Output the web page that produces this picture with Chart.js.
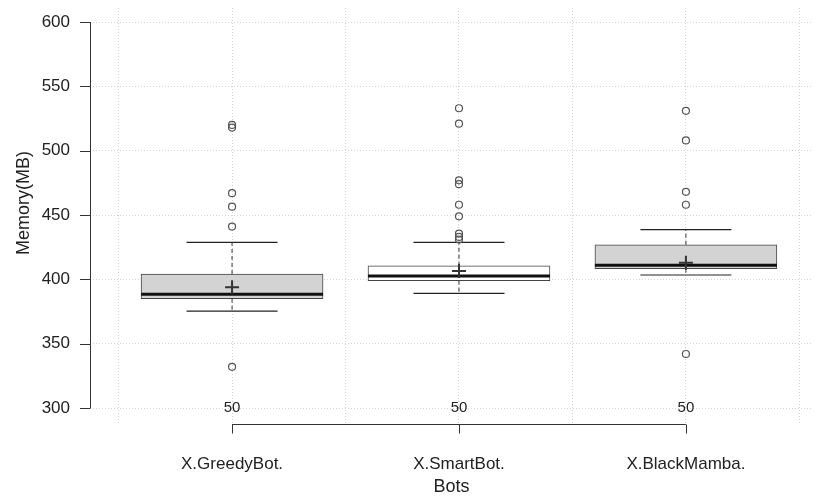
<!DOCTYPE html>
<html>
<head>
<meta charset="utf-8">
<script src="https://cdn.jsdelivr.net/npm/chart.js@4.4.1/dist/chart.umd.min.js"></script>
<style>
  body { margin: 0; background: #fff; }
  #wrap { width: 815px; height: 499px; }
</style>
</head>
<body>
<div id="wrap"><canvas id="box" width="815" height="499"></canvas></div>
<script>
const categories = ['X.GreedyBot.', 'X.SmartBot.', 'X.BlackMamba.'];
const counts = [50, 50, 50];
const q1 = [385, 399, 408.3];
const median = [388.4, 402.6, 410.9];
const q3 = [404.2, 410.6, 426.9];
const whiskerLow = [375.4, 389.1, 403.4];
const whiskerHigh = [428.8, 428.8, 438.6];
const means = [393.8, 406.5, 412.9];
const outliers = [
    [520, 518, 467, 456.5, 441, 332],
    [533, 521, 477, 474, 458, 449, 435.5, 433, 431],
    [531, 508, 468, 458, 342]
];
const yTicks = [300, 350, 400, 450, 500, 550, 600];
const xGrid = [0.5, 1, 1.5, 2, 2.5, 3, 3.5];

const FONT = 'Liberation Sans, Arial, sans-serif';

// whisker segments, null breaks the line between them
const whiskerData = [];
categories.forEach((c, i) => {
    whiskerData.push({x: i + 1, y: q3[i]}, {x: i + 1, y: whiskerHigh[i]}, {x: i + 1, y: null});
    whiskerData.push({x: i + 1, y: q1[i]}, {x: i + 1, y: whiskerLow[i]}, {x: i + 1, y: null});
});

const outlierData = [];
outliers.forEach((list, i) => list.forEach(v => outlierData.push({x: i + 1, y: v})));

//R style axes: lines only between first and last tick
const rAxes = {
    id: 'rAxes',
    afterDraw(chart) {
        const ctx = chart.ctx;
        const xs = chart.scales.x, ys = chart.scales.y;
        const left = chart.chartArea.left, bottom = chart.chartArea.bottom;
        ctx.save();
        ctx.strokeStyle = '#333';
        ctx.lineWidth = 1;
        ctx.beginPath();
        ctx.moveTo(left + 0.5, ys.getPixelForValue(300));
        ctx.lineTo(left + 0.5, ys.getPixelForValue(600));
        yTicks.forEach(v => {
            const py = Math.round(ys.getPixelForValue(v)) + 0.5;
            ctx.moveTo(left + 0.5, py);
            ctx.lineTo(left - 10, py);
        });
        const by = bottom + 0.5;
        ctx.moveTo(xs.getPixelForValue(1), by);
        ctx.lineTo(xs.getPixelForValue(3), by);
        categories.forEach((c, i) => {
            const px = Math.round(xs.getPixelForValue(i + 1)) + 0.5;
            ctx.moveTo(px, by);
            ctx.lineTo(px, by + 9);
        });
        ctx.stroke();

        // group sizes
        ctx.fillStyle = '#222';
        ctx.font = '15px ' + FONT;
        ctx.textAlign = 'center';
        ctx.textBaseline = 'middle';
        counts.forEach((n, i) => {
            ctx.fillText(String(n), xs.getPixelForValue(i + 1), ys.getPixelForValue(300));
        });

        // y title, centred on the 300..600 span like R does
        ctx.font = '18px ' + FONT;
        ctx.translate(24, (ys.getPixelForValue(300) + ys.getPixelForValue(600)) / 2 - 12);
        ctx.rotate(-Math.PI / 2);
        ctx.fillText('Memory(MB)', 0, 0);
        ctx.restore();
    }
};

new Chart(document.getElementById('box'), {
    type: 'bar',
    plugins: [rAxes],
    data: {
        datasets: [
            {
                type: 'scatter',
                data: outlierData,
                pointStyle: 'circle',
                pointRadius: 3.5,
                borderColor: '#555',
                backgroundColor: 'rgba(0,0,0,0)',
                borderWidth: 1.2,
                order: 0
            },
            {
                type: 'scatter',
                data: means.map((v, i) => ({x: i + 1, y: v})),
                pointStyle: 'cross',
                pointRadius: 7,
                borderColor: '#333',
                borderWidth: 2,
                order: 1
            },
            {
                type: 'scatter',
                data: median.map((v, i) => ({x: i + 1, y: v})),
                pointStyle: 'line',
                pointRadius: 91,
                borderColor: '#111',
                borderWidth: 3,
                order: 2
            },
            {
                type: 'scatter',
                data: whiskerLow.concat(whiskerHigh).map((v, i) => ({x: (i % 3) + 1, y: v})),
                pointStyle: 'line',
                pointRadius: 45.5,
                borderColor: '#222',
                borderWidth: 1.2,
                order: 3
            },
            {
                type: 'line',
                data: whiskerData,
                borderColor: '#333',
                borderWidth: 1,
                borderDash: [4, 3],
                pointRadius: 0,
                spanGaps: false,
                order: 4
            },
            {
                type: 'bar',
                data: categories.map((c, i) => ({x: i + 1, y: [q1[i], q3[i]]})),
                backgroundColor: ['#d3d3d3', '#ffffff', '#d3d3d3'],
                borderColor: '#444',
                borderWidth: 1,
                borderSkipped: false,
                barThickness: 182,
                order: 5
            }
        ]
    },
    options: {
        responsive: false,
        animation: false,
        layout: { autoPadding: false, padding: { left: 0, right: 2, top: 8, bottom: 0 } },
        plugins: {
            legend: { display: false },
            tooltip: { enabled: false }
        },
        scales: {
            x: {
                type: 'linear',
                offset: false,
                min: 0.374,
                max: 3.56,
                afterBuildTicks: s => { s.ticks = xGrid.map(v => ({value: v})); },
                afterFit: s => { s.height = 75; s.paddingLeft = 0; s.paddingRight = 0; },
                ticks: {
                    autoSkip: false,
                    maxRotation: 0,
                    padding: 30,
                    color: '#222',
                    font: { family: FONT, size: 17 },
                    callback: v => Number.isInteger(v) ? categories[v - 1] : ''
                },
                grid: { color: '#d4d4d4', drawTicks: false, offset: false },
                border: { display: false, dash: [1, 2] },
                title: {
                    display: true,
                    text: 'Bots',
                    color: '#222',
                    font: { family: FONT, size: 18 },
                    padding: { top: 0, bottom: 1 }
                }
            },
            y: {
                min: 287.6,
                max: 610.9,
                afterBuildTicks: s => { s.ticks = yTicks.map(v => ({value: v})); },
                afterFit: s => { s.width = 90; s.paddingTop = 0; s.paddingBottom = 0; },
                ticks: {
                    padding: 20,
                    color: '#222',
                    font: { family: FONT, size: 17 }
                },
                grid: { color: '#d4d4d4', drawTicks: false },
                border: { display: false, dash: [1, 2] }
            }
        }
    }
});
</script>
</body>
</html>
